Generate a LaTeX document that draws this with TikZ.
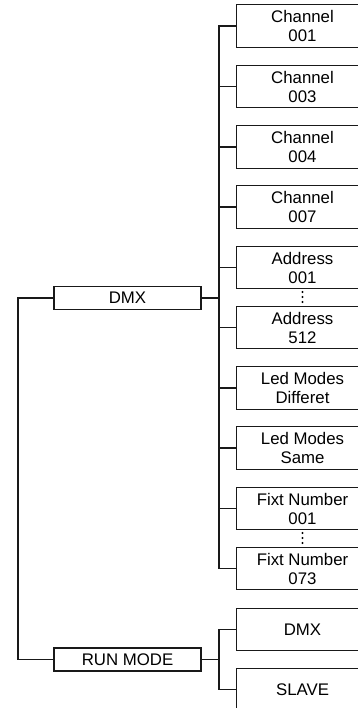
\documentclass[tikz,border=0pt]{standalone}
\usepackage{fontspec}
\setmainfont{Liberation Sans}
\begin{document}
\begin{tikzpicture}[x=1pt,y=-1pt,
  rbox/.style={rectangle, minimum width=131pt, minimum height=42pt, inner sep=0pt, align=center, font=\fontsize{16.8}{19}\selectfont},
  lbox/.style={draw=black!90, line width=1.2pt, rectangle, minimum width=147pt, minimum height=23pt, inner sep=0pt, align=center, font=\fontsize{16.8}{19}\selectfont},
  wire/.style={draw=black!90, line width=1.2pt},
  dotsl/.style={draw=black, line width=2.2pt, line cap=round, dash pattern=on 0pt off 5pt}]
\useasboundingbox (0,0) rectangle (358,708);
\clip (0,0) rectangle (358,708);
% right boxes (their right side runs past the picture edge)
\node[rbox] (c1) at (302.5,26) {Channel\\001};
\node[rbox] (c3) at (302.5,86.5) {Channel\\003};
\node[rbox] (c4) at (302.5,147) {Channel\\004};
\node[rbox] (c7) at (302.5,207) {Channel\\007};
\node[rbox] (a1) at (302.5,267.5) {Address\\001};
\node[rbox] (a5) at (302.5,327.5) {Address\\512};
\node[rbox] (ld) at (302.5,388) {Led Modes\\Differet};
\node[rbox] (ls) at (302.5,448) {Led Modes\\Same};
\node[rbox] (f1) at (302.5,508.5) {Fixt Number\\001};
\node[rbox] (f7) at (302.5,568.5) {Fixt Number\\073};
\node[rbox] (rd) at (302.5,629.5) {DMX};
\node[rbox] (rs) at (302.5,689.5) {SLAVE};
\foreach \n in {c1,c3,c4,c7,a1,a5,ld,ls,f1,f7,rd,rs}
  \draw[wire] ([xshift=20pt]\n.north east) -| (\n.west) |- ([xshift=20pt]\n.south east);
% left boxes
\node[lbox] (dmx) at (127.5,298) {DMX};
\node[lbox] (run) at (127.5,659.5) {RUN MODE};
% buses
\coordinate (bt) at (219,26);
\coordinate (bb) at (219,568.5);
\coordinate (bj) at (219,298);
\draw[wire] (c1.west) -- (bt) -- (bb) -- (f7.west);
\foreach \n in {c3,c4,c7,a1,a5,ld,ls,f1} \draw[wire] (\n.west) -- (\n.west -| bt);
\draw[wire] (dmx.east) -- (bj);
% run mode bus
\coordinate (rt) at (219,629.5);
\coordinate (rb) at (219,689.5);
\draw[wire] (rd.west) -- (rt) -- (rb) -- (rs.west);
\draw[wire] (run.east) -- (run.east -| rt);
% left bus
\coordinate (lt) at (18,298);
\coordinate (lb) at (18,659.5);
\draw[wire] (dmx.west) -- (lt) -- (lb) -- (run.west);
% dots
\coordinate (d1) at (302.5,292);
\coordinate (d1e) at (302.5,303);
\coordinate (d2) at (302.5,533);
\coordinate (d2e) at (302.5,544);
\draw[dotsl] (d1) -- (d1e);
\draw[dotsl] (d2) -- (d2e);
\end{tikzpicture}
\end{document}
